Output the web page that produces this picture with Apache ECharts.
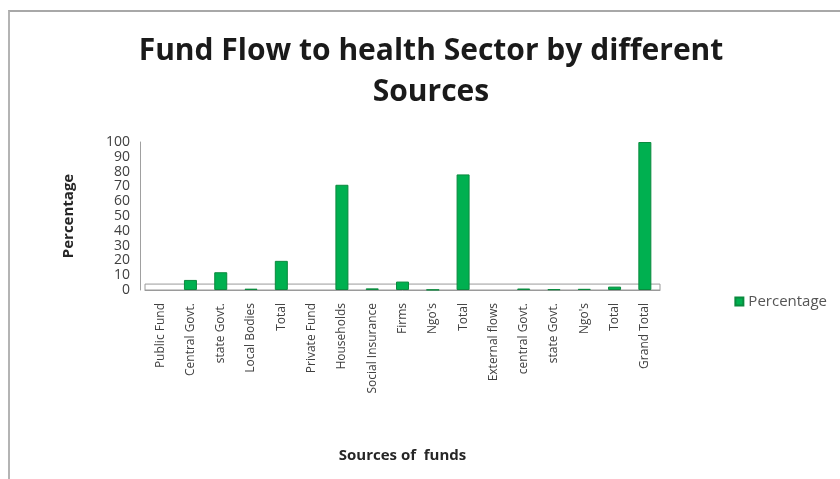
<!DOCTYPE html>
<html>
<head>
<meta charset="utf-8">
<script src="https://cdn.jsdelivr.net/npm/echarts@6/dist/echarts.min.js"></script>
<style>
  html, body { margin: 0; padding: 0; background: #ffffff; }
  #wrap { position: relative; width: 840px; height: 479px; overflow: hidden; }
  #frame { position: absolute; left: 8px; top: 10px; right: -4px; bottom: -4px;
           border-top: 2px solid #a8a8a8; border-left: 2px solid #b4b4b4; }
  #chart { position: absolute; left: 0; top: 0; width: 840px; height: 479px; }
</style>
</head>
<body>
<div id="wrap">
  <div id="frame"></div>
  <div id="chart"></div>
</div>
<script>
// Funding sources, grouped as public / private / external flows
const categories = [
  'Public Fund', 'Central Govt.', 'state Govt.', 'Local Bodies', 'Total',
  'Private Fund', 'Households', 'Social Insurance', 'Firms', "Ngo's", 'Total',
  'External flows', 'central Govt.', 'state Govt.', "Ngo's", 'Total', 'Grand Total'
];
// Share of total health spending (%); group headings carry no bar
const percentage = [
  null, 6.8, 12.0, 0.9, 19.7,
  null, 71.1, 1.1, 5.7, 0.2, 78.1,
  null, 1.0, 0.5, 0.8, 2.3, 100
];
const yTicks = { min: 0, max: 100, step: 10 };

const chart = echarts.init(document.getElementById('chart'), null, { renderer: 'canvas' });
const font = "'Open Sans', 'Liberation Sans', sans-serif";

chart.setOption({
  backgroundColor: 'transparent',
  animation: false,
  title: {
    text: 'Fund Flow to health Sector by different\nSources',
    left: 426,
    top: 26,
    textAlign: 'center',
    textStyle: { fontFamily: font, fontWeight: 'bold', fontSize: 30, lineHeight: 41, color: '#1a1a1a' }
  },
  legend: {
    data: ['Percentage'],
    right: 8,
    top: 289,
    icon: 'rect',
    itemWidth: 8,
    itemHeight: 8,
    itemGap: 6,
    textStyle: { fontFamily: font, fontSize: 15, color: '#555555' }
  },
  grid: { left: 145, right: 180, top: 142, bottom: 189, containLabel: false },
  xAxis: {
    type: 'category',
    data: categories,
    name: 'Sources of  funds',
    nameLocation: 'middle',
    nameGap: 158,
    nameTextStyle: { fontFamily: font, fontWeight: 'bold', fontSize: 15, color: '#262626' },
    axisLine: { show: true, lineStyle: { color: '#9a9a9a', width: 1 } },
    axisTick: { show: false },
    axisLabel: {
      interval: 0,
      rotate: 90,
      margin: 13,
      fontFamily: font,
      fontSize: 12,
      color: '#404040'
    }
  },
  yAxis: {
    type: 'value',
    min: yTicks.min,
    max: yTicks.max,
    interval: yTicks.step,
    offset: 5,
    name: 'Percentage',
    nameLocation: 'middle',
    nameGap: 64,
    nameTextStyle: { fontFamily: font, fontWeight: 'bold', fontSize: 15, color: '#262626' },
    axisLine: { show: true, lineStyle: { color: '#a0a0a0', width: 1 } },
    axisTick: { show: false },
    splitLine: { show: false },
    axisLabel: {
      fontFamily: font, fontSize: 14, lineHeight: 14, color: '#404040', margin: 10,
      showMinLabel: true, showMaxLabel: true, hideOverlap: false
    }
  },
  series: [{
    name: 'Percentage',
    type: 'bar',
    data: percentage,
    barWidth: 13,
    itemStyle: { color: '#00b050', borderColor: '#0a8a3e', borderWidth: 1 },
    // chart floor drawn as a thin outlined band along the base
    markArea: {
      silent: true,
      itemStyle: { color: 'rgba(0,0,0,0)', borderColor: '#9a9a9a', borderWidth: 1 },
      data: [[{ yAxis: 0, x: 145 }, { yAxis: 4, x: 660 }]]
    }
  }]
});
</script>
</body>
</html>
